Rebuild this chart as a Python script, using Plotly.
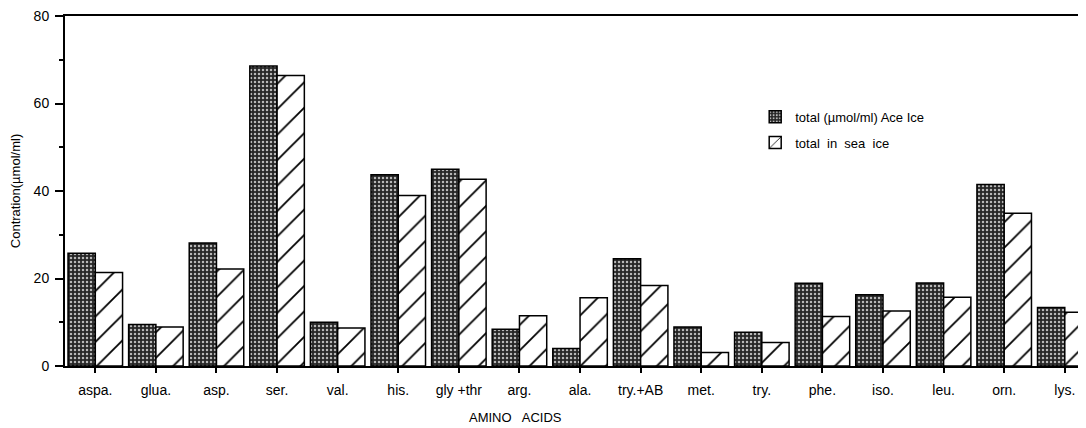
import plotly.graph_objects as go

categories = ["aspa.", "glua.", "asp.", "ser.", "val.", "his.", "gly +thr", "arg.", "ala.",
              "try.+AB", "met.", "try.", "phe.", "iso.", "leu.", "orn.", "lys."]
ace_ice = [25.8, 9.5, 28.1, 68.6, 10.0, 43.7, 45.0, 8.4, 4.0,
           24.5, 8.9, 7.7, 18.9, 16.3, 19.0, 41.5, 13.4]
sea_ice = [21.4, 8.9, 22.2, 66.4, 8.7, 39.0, 42.7, 11.5, 15.6,
           18.4, 3.1, 5.4, 11.3, 12.6, 15.7, 34.9, 12.3]
y_ticks = [0, 20, 40, 60, 80]

FONT = "Liberation Sans, Arial, sans-serif"

fig = go.Figure()
fig.add_trace(go.Bar(
    x=list(range(len(categories))), y=ace_ice, name="total (\u00b5mol/ml) Ace Ice",
    legendgroup="a",
    marker=dict(color="#3a3a3a", line=dict(color="black", width=1.5),
                pattern=dict(shape=".", fgcolor="#b8b8b8", bgcolor="#262626",
                             size=4, solidity=0.3, fgopacity=1)),
))
fig.add_trace(go.Bar(
    x=list(range(len(categories))), y=sea_ice, name="total  in  sea  ice",
    legendgroup="b",
    marker=dict(color="white", line=dict(color="black", width=1.5),
                pattern=dict(shape="/", fgcolor="black", bgcolor="white",
                             size=18, solidity=0.1, fgopacity=1)),
))

fig.update_layout(
    width=1078, height=420,
    margin=dict(l=57, r=0, t=6, b=62),
    paper_bgcolor="white", plot_bgcolor="white",
    barmode="group", bargap=0.1, bargroupgap=0.0,
    font=dict(family=FONT, size=13, color="black"),
    showlegend=True,
    legend=dict(x=0.676, y=0.755, xanchor="left", yanchor="top",
                font=dict(size=13, family=FONT), tracegroupgap=6,
                bgcolor="rgba(0,0,0,0)"),
    xaxis=dict(
        range=[-0.5, 16.35], tickmode="array",
        tickvals=list(range(len(categories))), ticktext=categories,
        tickson="boundaries", ticks="outside", ticklen=5, tickwidth=2,
        tickcolor="black", showline=True, linecolor="black", linewidth=2,
        mirror=True, showgrid=False, zeroline=False,
        ticklabelstandoff=5,
        tickfont=dict(size=14, family=FONT),
    ),
    yaxis=dict(
        range=[0, 80], tickmode="array", tickvals=y_ticks,
        ticks="outside", ticklen=8, tickwidth=1.5, tickcolor="black",
        minor=dict(dtick=10, ticks="outside", ticklen=4, tickcolor="black", showgrid=False),
        showline=True, linecolor="black", linewidth=2,
        showgrid=False, zeroline=False,
        ticklabelstandoff=3, ticklabeloverflow="allow",
        tickfont=dict(size=14, family=FONT),
        title=dict(text="Contration(\u00b5mol/ml)", font=dict(size=13, family=FONT), standoff=10),
    ),
)

fig.add_annotation(text="AMINO   ACIDS", xref="paper", yref="paper",
                   x=0.441, y=-0.148, xanchor="center", yanchor="middle",
                   showarrow=False, font=dict(size=13, family=FONT))

fig.write_html("out.html")
